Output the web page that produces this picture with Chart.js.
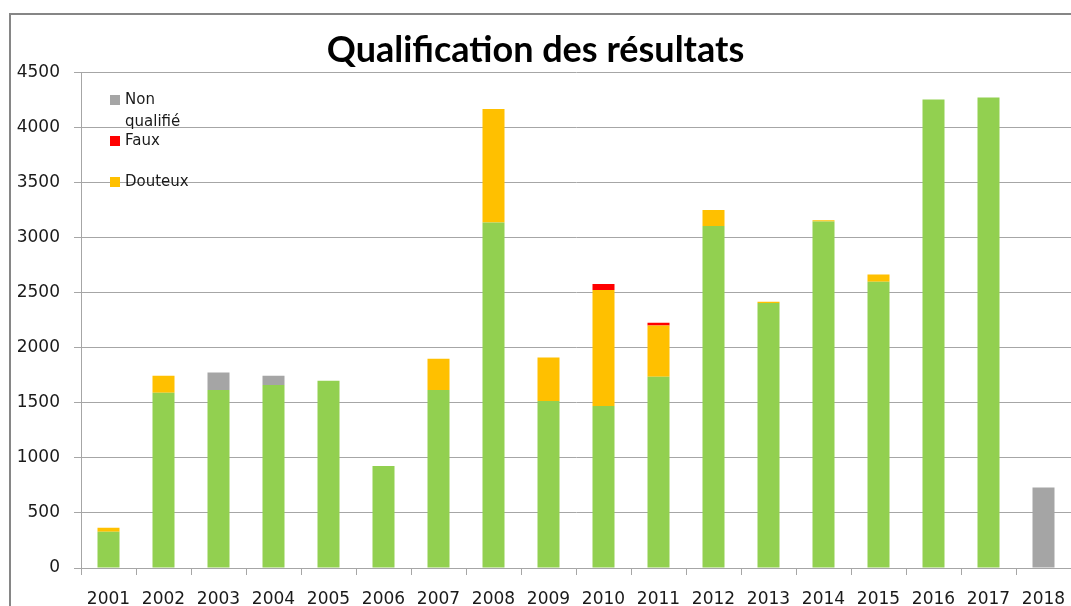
<!DOCTYPE html>
<html>
<head>
<meta charset="utf-8">
<script src="https://cdn.jsdelivr.net/npm/chart.js@4"></script>
<style>
  html, body { margin: 0; padding: 0; background: #fff; }
  #wrap { width: 1071px; height: 606px; }
</style>
</head>
<body>
<div id="wrap"><canvas id="chartQualif"></canvas></div>
<script>
const years = ["2001", "2002", "2003", "2004", "2005", "2006", "2007", "2008", "2009",
  "2010", "2011", "2012", "2013", "2014", "2015", "2016", "2017", "2018"];

// green part has no legend entry in the original
const bon = [330, 1590, 1615, 1660, 1700, 925, 1615, 3135, 1515, 1470, 1735, 3105, 2405, 3145, 2598, 4253, 4270, 0];
const douteux = [35, 155, 0, 0, 0, 0, 285, 1030, 395, 1053, 467, 145, 12, 12, 65, 0, 0, 0];
const faux = [0, 0, 0, 0, 0, 0, 0, 0, 0, 55, 24, 0, 0, 0, 0, 0, 0, 0];
const nonQualifie = [0, 0, 160, 85, 0, 0, 0, 0, 0, 0, 0, 0, 0, 0, 0, 0, 0, 730];

const yTicks = [0, 500, 1000, 1500, 2000, 2500, 3000, 3500, 4000, 4500];

const textColor = "#1a1a1a";
const gridColor = "#a6a6a6";

// frame + white background
const frame = {
  id: "frame",
  beforeDraw(chart) {
    const ctx = chart.ctx;
    ctx.save();
    ctx.fillStyle = "#fff";
    ctx.fillRect(0, 0, chart.width, chart.height);
    ctx.strokeStyle = "#868686";
    ctx.lineWidth = 2;
    ctx.strokeRect(10, 14, chart.width + 20, chart.height + 20);
    ctx.restore();
  }
};

// legend drawn inside the plot, top left, like the excel one
const legendInside = {
  id: "legendInside",
  afterDraw(chart) {
    const ctx = chart.ctx;
    const rows = [
      { ds: 3, y: 100, lines: ["Non", "qualifié"] },
      { ds: 2, y: 141, lines: ["Faux"] },
      { ds: 1, y: 182, lines: ["Douteux"] }
    ];
    ctx.save();
    ctx.font = "15px 'DejaVu Sans'";
    ctx.textBaseline = "middle";
    rows.forEach(r => {
      const d = chart.data.datasets[r.ds];
      ctx.fillStyle = d.backgroundColor;
      ctx.fillRect(110, r.y - 5, 10, 10);
      ctx.fillStyle = textColor;
      r.lines.forEach((t, i) => ctx.fillText(t, 125, r.y + i * 22));
    });
    ctx.restore();
  }
};

const data = {
  labels: years,
  datasets: [
    { label: "Bon", data: bon, backgroundColor: "#92D050" },
    { label: "Douteux", data: douteux, backgroundColor: "#FFC000" },
    { label: "Faux", data: faux, backgroundColor: "#FF0000" },
    { label: "Non qualifié", data: nonQualifie, backgroundColor: "#A5A5A5" }
  ]
};

const config = {
  type: "bar",
  data: data,
  options: {
    responsive: true,
    maintainAspectRatio: false,
    animation: false,
    datasets: {
      bar: { barPercentage: 0.4, categoryPercentage: 1.0 }
    },
    layout: { padding: 0 },
    plugins: {
      legend: { display: false },
      tooltip: { enabled: false },
      title: {
        display: true,
        text: "Qualification des résultats",
        color: "#000",
        font: { family: "Lato", size: 36, weight: "bold", lineHeight: 1.2 },
        padding: { top: 29, bottom: 0 }
      }
    },
    scales: {
      x: {
        stacked: true,
        offset: true,
        afterFit(scale) {
          scale.height = 38;
          scale.paddingLeft = 0;
          scale.paddingRight = 0;
        },
        grid: { offset: true, drawOnChartArea: false, tickLength: 7, color: gridColor },
        border: { color: gridColor },
        ticks: {
          color: textColor,
          padding: 14,
          font: { family: "DejaVu Sans", size: 17 }
        }
      },
      y: {
        stacked: true,
        min: 0,
        max: 4500,
        afterFit(scale) { scale.width = 81; },
        afterBuildTicks(scale) { scale.ticks = yTicks.map(v => ({ value: v })); },
        grid: { color: gridColor, tickLength: 7 },
        border: { color: gridColor },
        ticks: {
          color: textColor,
          padding: 14,
          font: { family: "DejaVu Sans", size: 17 },
          callback: v => String(v)
        }
      }
    }
  },
  plugins: [frame, legendInside]
};

const myChart = new Chart(document.getElementById("chartQualif"), config);
</script>
</body>
</html>
